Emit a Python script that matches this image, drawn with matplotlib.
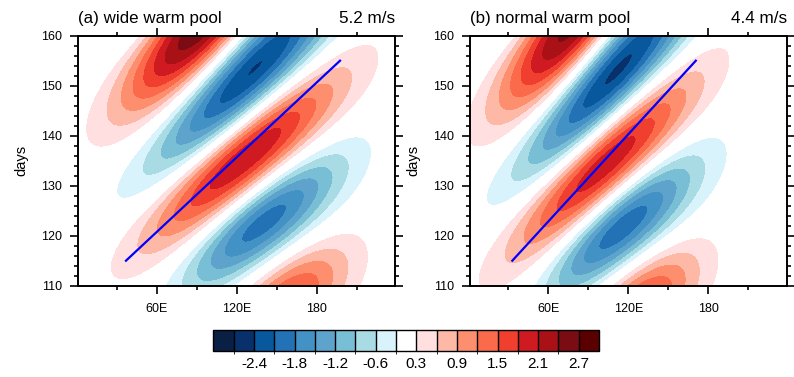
import numpy as np
import matplotlib
matplotlib.use('Agg')
import matplotlib.pyplot as plt
from matplotlib.colors import ListedColormap, BoundaryNorm
from matplotlib.ticker import MultipleLocator, FixedLocator

plt.rcParams['font.family'] = ['Liberation Sans', 'DejaVu Sans']
plt.rcParams['axes.unicode_minus'] = False

# contour levels and colours (no zero level, white band -0.3..0.3)
levels = [-2.7, -2.4, -2.1, -1.8, -1.5, -1.2, -0.9, -0.6, -0.3,
          0.3, 0.6, 0.9, 1.2, 1.5, 1.8, 2.1, 2.4, 2.7]
colors = ['#0a1f44', '#08306b', '#08589e', '#2272b5', '#4292c6', '#5da3cc',
          '#78bfd5', '#a8dbe3', '#d8f3fc', '#ffffff', '#ffdfe0', '#fdb8a6',
          '#fd8f6f', '#fc6a4c', '#f03e2f', '#cf1a21', '#a91116', '#7b0c13',
          '#5a0000']
cb_ticks = [-2.4, -1.8, -1.2, -0.6, 0.3, 0.9, 1.5, 2.1, 2.7]
cb_labels = ['-2.4', '-1.8', '-1.2', '-0.6', '0.3', '0.9', '1.5', '2.1', '2.7']

xticks = [60, 120, 180]
xlabels = ['60E', '120E', '180']

# anomaly centres: lon (deg E), day, amplitude,
# tilt of each band (deg lon per day) and its length along the band
wide_lon = [122, 128, 95, 85, 138, 156]
wide_day = [135, 151.5, 163, 175, 123, 107]
wide_amp = [2.65, -2.75, 3.0, -1.3, -2.2, 1.6]
wide_tilt = [4.1, 3.4, 3.2, 3.0, 4.4, 4.2]
wide_len = [24, 27, 22, 22, 19, 15]

norm_lon = [98, 106, 80, 72, 112, 126]
norm_day = [133.5, 151, 163, 175, 122, 106]
norm_amp = [2.8, -2.95, 3.0, -1.3, -2.4, 1.7]
norm_tilt = [3.5, 3.0, 2.8, 2.8, 4.0, 3.8]
norm_len = [24, 27, 22, 22, 19, 15]

# propagation lines
line_day = [115, 155]
wide_line_lon = [37, 197.5]
norm_line_lon = [33, 170.6]

panels = [
    ('(a) wide warm pool', '5.2 m/s', wide_lon, wide_day, wide_amp, wide_tilt, wide_len, wide_line_lon),
    ('(b) normal warm pool', '4.4 m/s', norm_lon, norm_day, norm_amp, norm_tilt, norm_len, norm_line_lon),
]

lon = np.arange(0, 241, 1.0)
day = np.arange(108, 162.1, 0.25)
LON, DAY = np.meshgrid(lon, day)


def packet(clon, cday, amp, tilt, length, ln=7.5):
    # elongated gaussian blobs, lon scaled so 4 deg ~ 1 day
    z = np.zeros_like(LON)
    for lo, d, a, c, ls in zip(clon, cday, amp, tilt, length):
        dx = (LON - lo) / 4.0
        dt = DAY - d
        ux, ut = c / 4.0, 1.0
        norm_u = np.hypot(ux, ut)
        ux, ut = ux / norm_u, ut / norm_u
        s = dx * ux + dt * ut
        n = dt * ux - dx * ut
        z += a * np.exp(-(s / ls) ** 2 - (n / ln) ** 2)
    return z


cmap = ListedColormap(colors[1:-1])
cmap.set_under(colors[0])
cmap.set_over(colors[-1])
norm = BoundaryNorm(levels, cmap.N)

fig = plt.figure(figsize=(7.94, 3.77), dpi=100)
lefts = [0.0986, 0.5919]
for i, (title, speed_txt, clon, cday, amp, tilt, length, llon) in enumerate(panels):
    ax = fig.add_axes([lefts[i], 0.2422, 0.3989, 0.6631])
    z = packet(clon, cday, amp, tilt, length)
    cs = ax.contourf(LON, DAY, z, levels=levels, cmap=cmap, norm=norm, extend='both')
    ax.plot(llon, line_day, color='#0000ff', lw=1.6)
    ax.set_xlim(1.25, 238.75)
    ax.set_ylim(110, 160)
    ax.xaxis.set_major_locator(FixedLocator(xticks))
    ax.set_xticklabels(xlabels)
    ax.xaxis.set_minor_locator(FixedLocator([30, 90, 150, 210]))
    ax.yaxis.set_major_locator(MultipleLocator(10))
    ax.yaxis.set_minor_locator(MultipleLocator(2))
    ax.tick_params(which='both', direction='out', top=True, right=True,
                   labelsize=9, width=1.2)
    ax.tick_params(which='major', length=5.5, pad=6)
    ax.tick_params(which='minor', length=2.8)
    ax.tick_params(axis='x', which='major', pad=7)
    for sp in ax.spines.values():
        sp.set_linewidth(1.4)
    ax.set_ylabel('days', fontsize=10.5, labelpad=9)
    ax.text(0, 1.05, title, transform=ax.transAxes, fontsize=12.2,
            ha='left', va='baseline')
    ax.text(1, 1.05, speed_txt, transform=ax.transAxes, fontsize=12.3,
            ha='right', va='baseline')

cax = fig.add_axes([0.2687, 0.069, 0.4857, 0.0557])
cb = fig.colorbar(cs, cax=cax, orientation='horizontal', extendfrac='auto',
                  extendrect=True, drawedges=True, ticks=cb_ticks)
cb.ax.set_xticklabels(cb_labels)
cb.ax.tick_params(length=0, labelsize=11, pad=4)
cb.outline.set_linewidth(1.0)
cb.dividers.set_linewidth(1.0)

fig.savefig('out.png', dpi=100)
